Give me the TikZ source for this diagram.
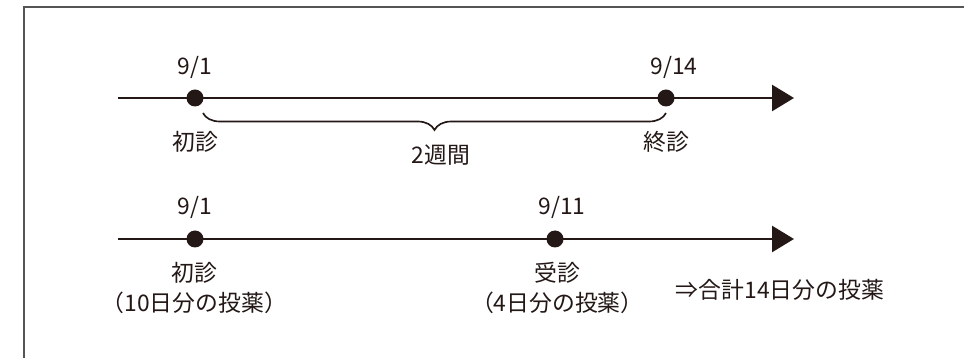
\documentclass[tikz,border=0pt]{standalone}
\usepackage{fontspec}
\setmainfont{Noto Sans CJK JP}
\usetikzlibrary{arrows.meta,decorations.pathreplacing}
\definecolor{ink}{RGB}{35,24,21}
\definecolor{framegray}{RGB}{85,85,85}

\begin{document}
\begin{tikzpicture}[font=\fontsize{19.5}{25.5}\selectfont, text=ink]

      \useasboundingbox (0,0) rectangle (28.92,10.74);

      % frame, only its top and left edges are in view
      \coordinate (f1) at (0.72,0);
      \coordinate (f2) at (0.72,10.53);
      \coordinate (f3) at (28.92,10.53);
      \draw[framegray, line width=0.06cm] (f1) -- (f2) -- (f3);

      \coordinate (s1) at (3.54,7.8);
      \coordinate (e1) at (23.82,7.8);
      \coordinate (s2) at (3.54,3.57);
      \coordinate (e2) at (23.82,3.57);

      \begin{scope}[ink, line width=0.08cm, -{Triangle[length=0.66cm,width=0.78cm]}]
        \draw (s1) -- (e1);
        \draw (s2) -- (e2);
      \end{scope}

      \begin{scope}[every node/.style={circle,fill=ink,inner sep=0pt,minimum size=0.51cm}]
        \node (a1) at (5.85,7.8)  {};
        \node (a2) at (19.98,7.8) {};
        \node (b1) at (5.85,3.57) {};
        \node (b2) at (16.65,3.57) {};
      \end{scope}

      % brace under the first line
      \coordinate (bl) at (6.09,7.35);
      \coordinate (br) at (19.98,7.35);
      \draw[ink, line width=0.05cm, decorate,
            decoration={brace,mirror,amplitude=0.51cm}] (bl) -- (br);

      \begin{scope}[every node/.style={align=center,inner sep=0pt}]
        \node (1)  at (5.85,8.73)  {9/1};
        \node (2)  at (20.22,8.73) {9/14};
        \node (3)  at (5.85,6.48)  {初診};
        \node (4)  at (19.98,6.48) {終診};
        \node (5)  at (13.23,6.09) {2週間};
        \node (6)  at (5.85,4.53)  {9/1};
        \node (7)  at (16.86,4.53) {9/11};
        \node (8)  at (5.83,2.11)  {初診\\（10日分の投薬）};
        \node (9)  at (16.72,2.11) {受診\\（4日分の投薬）};
        \node (10) at (23.4,2.04)  {⇒合計14日分の投薬};
      \end{scope}

    \end{tikzpicture}
\end{document}
